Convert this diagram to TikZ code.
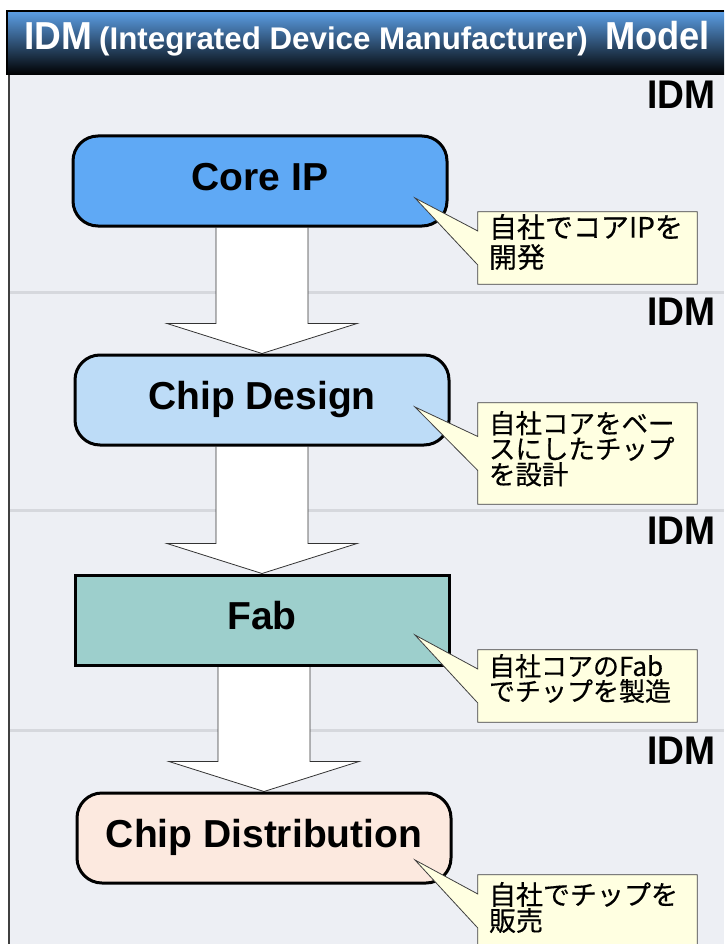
\documentclass[tikz,border=0pt]{standalone}
\usepackage{fontspec}
\setmainfont{Liberation Sans}
\newfontfamily\jpfont[FakeBold=0.4]{Noto Sans CJK JP}
\usetikzlibrary{calc,backgrounds}

\definecolor{coreblue}{HTML}{5FA9F5}
\definecolor{designblue}{HTML}{BDDCF7}
\definecolor{fabteal}{HTML}{9DCFCC}
\definecolor{distpeach}{HTML}{FCE9DF}
\definecolor{notefill}{HTML}{FFFFE1}
\definecolor{panelbg}{HTML}{EDEFF4}
\definecolor{sepgray}{HTML}{D6D8DD}
\definecolor{titleblue}{HTML}{5C9FE6}
\definecolor{titlemid}{HTML}{1A4670}

\begin{document}
\begin{tikzpicture}[x=1pt, y=-1pt,
    stage/.style={draw=black, line width=3pt, rounded corners=25pt, minimum width=374pt, minimum height=90pt,
        text height=28pt, text depth=9pt, inner sep=0pt, font=\fontsize{39}{44}\selectfont\bfseries},
    flatstage/.style={stage, sharp corners},
    note/.style={minimum width=219pt, minimum height=72pt, inner sep=0pt},
    callout/.style={fill=notefill, draw=black!75, line width=0.8pt},
    notetext/.style={anchor=north west, inner sep=0pt, align=left},
    idm/.style={anchor=north east, inner sep=0pt, font=\fontsize{40}{44}\selectfont\bfseries},
    titletext/.style={inner sep=0pt, text=white},
    blockarr/.style={draw=black!80, line width=0.8pt, fill=white},
    sep/.style={draw=sepgray, line width=3pt}
]
    \useasboundingbox (0,0) rectangle (724,944);

    % Panel and title bar
    \begin{scope}[on background layer]
        \fill[white] (0,0) rectangle (724,944);
        \fill[panelbg] (9,75) rectangle (724,944);
        \draw[line width=2pt, black!75] (9,75) -- (9,944);
        \shade[top color=titleblue, middle color=titlemid, bottom color=black] (7,11) rectangle (724,75);
        \draw[line width=1.5pt, black] (7,75) -- (7,11) -- (724,11);
        \draw[sep] (10,292) -- (724,292);
        \draw[sep] (10,510) -- (724,510);
        \draw[sep] (10,730) -- (724,730);
    \end{scope}
    \node[titletext, anchor=base west, font=\fontsize{39}{44}\selectfont\bfseries] (titleidm) at (24,50)
        {\scalebox{0.95}[1]{IDM}};
    \node[titletext, anchor=base west, font=\fontsize{31.3}{36}\selectfont\bfseries] (titlefull) at (99,50)
        {(Integrated Device Manufacturer)};
    \node[titletext, anchor=base east, font=\fontsize{39}{44}\selectfont\bfseries] (titlemodel) at (710,50)
        {\scalebox{0.93}[1]{Model}};

    % IDM labels
    \node[idm] (idm1) at (716,81) {\scalebox{0.93}[1]{IDM}};
    \node[idm] (idm2) at (716,298) {\scalebox{0.93}[1]{IDM}};
    \node[idm] (idm3) at (716,517) {\scalebox{0.93}[1]{IDM}};
    \node[idm] (idm4) at (716,737) {\scalebox{0.93}[1]{IDM}};

    % Stages
    \node[stage, fill=coreblue] (core) at (260,181) {Core IP};
    \node[stage, fill=designblue] (design) at (262,400) {Chip Design};
    \node[flatstage, fill=fabteal] (fab) at (262,620) {Fab};
    \node[stage, fill=distpeach] (dist) at (264,838) {Chip Distribution};

    % Block arrows
    \begin{scope}[on background layer]
    \foreach \from/\to in {core/design, design/fab, fab/dist}
        \draw[blockarr] ($(\from.south -| \to.north)+(-46,0)$) -- ($(\to.north)+(-46,-30)$)
            -- ($(\to.north)+(-95,-30)$) -- (\to.north) -- ($(\to.north)+(95,-30)$)
            -- ($(\to.north)+(46,-30)$) -- ($(\from.south -| \to.north)+(46,0)$);
    \end{scope}

    % Callouts
    \coordinate (tip1) at (415,198);
    \coordinate (tip2) at (415,407);
    \coordinate (tip3) at (415,635);
    \coordinate (tip4) at (415,860);
    \node[note] (note1) at (587.5,248) {};
    \node[note, minimum height=101pt] (note2) at (587.5,453.5) {};
    \node[note] (note3) at (587.5,686) {};
    \node[note] (note4) at (587.5,911) {};
    \foreach \n in {1,2,3,4}
        \draw[callout] (note\n.north west) -- (note\n.north east) -- (note\n.south east) -- (note\n.south west)
            -- ($(note\n.west)+(0,17)$) -- (tip\n) -- ($(note\n.west)+(0,-17)$) -- cycle;

    \node[notetext, font=\jpfont\fontsize{28}{30}\selectfont] (text1)
        at ($(note1.north west)+(11,2)$) {自社でコアIPを\\開発};
    \node[notetext, font=\jpfont\fontsize{26.5}{25.5}\selectfont] (text2)
        at ($(note2.north west)+(11,8)$) {自社コアをベー\\スにしたチップ\\を設計};
    \node[notetext, font=\jpfont\fontsize{26}{25}\selectfont] (text3)
        at ($(note3.north west)+(11,4)$) {自社コアのFab\\でチップを製造};
    \node[notetext, font=\jpfont\fontsize{27}{26}\selectfont] (text4)
        at ($(note4.north west)+(11,7)$) {自社でチップを\\販売};
\end{tikzpicture}
\end{document}
